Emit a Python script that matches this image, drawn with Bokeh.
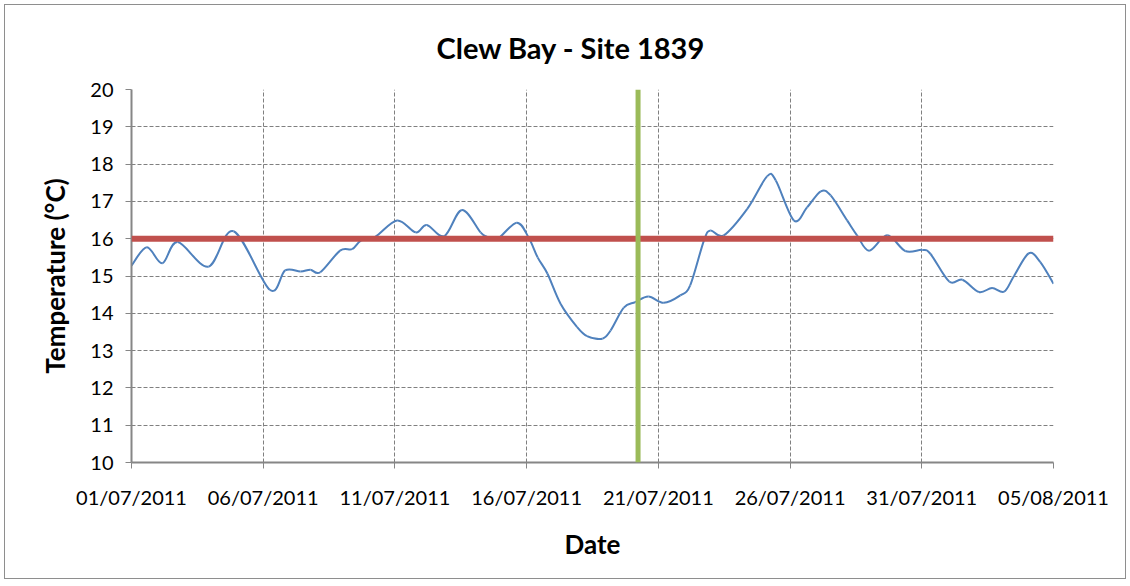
import numpy as np
import pandas as pd
from bokeh.plotting import figure
from bokeh.models import Range1d, FixedTicker, DatetimeTickFormatter, Span, ColumnDataSource
from bokeh.embed import file_html
from bokeh.resources import INLINE

# ---------------- data ----------------
times = [
    "2011-07-01 00:00", "2011-07-01 14:00", "2011-07-02 04:00", "2011-07-02 18:00",
    "2011-07-03 22:00", "2011-07-04 21:00", "2011-07-06 06:00", "2011-07-06 20:00",
    "2011-07-07 10:00", "2011-07-07 19:00", "2011-07-08 04:00", "2011-07-08 22:00",
    "2011-07-09 09:00", "2011-07-09 17:00", "2011-07-10 06:00", "2011-07-11 02:00",
    "2011-07-11 19:00", "2011-07-12 05:00", "2011-07-12 21:00", "2011-07-13 13:00",
    "2011-07-14 06:00", "2011-07-14 12:00", "2011-07-14 21:00", "2011-07-15 15:00",
    "2011-07-16 02:00", "2011-07-16 10:00", "2011-07-16 19:00", "2011-07-17 07:00",
    "2011-07-17 22:00", "2011-07-18 07:00", "2011-07-18 21:00", "2011-07-19 04:30",
    "2011-07-19 16:30", "2011-07-20 03:00", "2011-07-20 15:00", "2011-07-21 05:00",
    "2011-07-21 20:00", "2011-07-22 05:00", "2011-07-22 17:30", "2011-07-22 23:30",
    "2011-07-23 11:30", "2011-07-24 09:00", "2011-07-25 03:00", "2011-07-25 11:00",
    "2011-07-26 03:30", "2011-07-26 15:30", "2011-07-27 04:00", "2011-07-27 13:00",
    "2011-07-28 04:00", "2011-07-28 13:00", "2011-07-29 00:00", "2011-07-29 16:30",
    "2011-07-30 09:00", "2011-07-31 00:30", "2011-07-31 08:00", "2011-08-01 01:00",
    "2011-08-01 13:00", "2011-08-02 04:00", "2011-08-02 16:00", "2011-08-03 03:00",
    "2011-08-03 12:00", "2011-08-04 01:30", "2011-08-04 12:00", "2011-08-05 00:00",
]
temps = [
    15.28, 15.77, 15.34, 15.91,
    15.25, 16.20, 14.63, 15.15,
    15.12, 15.17, 15.10, 15.68,
    15.72, 15.95, 16.05, 16.49,
    16.17, 16.37, 16.07, 16.77,
    16.17, 16.05, 15.98, 16.43,
    16.02, 15.50, 15.06, 14.25,
    13.63, 13.39, 13.32, 13.54,
    14.15, 14.30, 14.45, 14.28,
    14.48, 14.75, 15.95, 16.22,
    16.09, 16.80, 17.67, 17.56,
    16.49, 16.84, 17.27, 17.16,
    16.49, 16.09, 15.68, 16.09,
    15.67, 15.70, 15.59, 14.85,
    14.90, 14.57, 14.68, 14.58,
    15.00, 15.61, 15.37, 14.79,
]
tick_dates = ["2011-07-01", "2011-07-06", "2011-07-11", "2011-07-16",
              "2011-07-21", "2011-07-26", "2011-07-31", "2011-08-05"]
y_ticks = [10, 11, 12, 13, 14, 15, 16, 17, 18, 19, 20]
threshold = 16
event_time = ["2011-07-20 05:30"]
title_text = "Clew Bay - Site 1839"
x_label = "Date"
y_label = "Temperature (°C)"


def to_ms(s):
    return pd.to_datetime(pd.Series(s)).to_numpy().astype("datetime64[ms]").astype("int64").astype(float)


x = to_ms(times)
y = np.array(temps, dtype=float)
ticks_ms = [float(v) for v in to_ms(tick_dates)]
event_ms = float(to_ms(event_time)[0])

# smooth curve (Excel-style smoothed line) as cubic Bezier segments
xp = np.concatenate([[x[0]], x, [x[-1]]])
yp = np.concatenate([[y[0]], y, [y[-1]]])
k = 1.0 / 6.0
seg = ColumnDataSource(dict(
    x0=x[:-1], y0=y[:-1], x1=x[1:], y1=y[1:],
    cx0=xp[1:-2] + (xp[2:-1] - xp[0:-3]) * k,
    cy0=yp[1:-2] + (yp[2:-1] - yp[0:-3]) * k,
    cx1=xp[2:-1] - (xp[3:] - xp[1:-2]) * k,
    cy1=yp[2:-1] - (yp[3:] - yp[1:-2]) * k,
))

FONT = "Lato"

p = figure(
    x_axis_type="datetime",
    frame_width=922, frame_height=373,
    min_border_left=126, min_border_right=72, min_border_top=84, min_border_bottom=116,
    x_range=Range1d(ticks_ms[0], ticks_ms[-1]),
    y_range=Range1d(y_ticks[0], y_ticks[-1]),
    output_backend="svg", toolbar_location=None,
    title=title_text,
)
p.styles = {"border": "1px solid #8e8e8e", "margin": "4px 0 0 4px"}

p.title.align = "left"
p.title.vertical_align = "top"
p.title.offset = 305
p.title.standoff = 46
p.title.text_font = FONT
p.title.text_font_size = "29px"
p.title.text_font_style = "bold"
p.title.text_color = "#000000"

p.outline_line_color = None
p.background_fill_color = "white"
p.border_fill_color = "white"

# grids
for g in (p.xgrid, p.ygrid):
    g.grid_line_color = "#808080"
    g.grid_line_dash = "4 2"
    g.grid_line_width = 1

# axes
p.xaxis.ticker = FixedTicker(ticks=ticks_ms)
p.xaxis.formatter = DatetimeTickFormatter(
    days="%d/%m/%Y", months="%d/%m/%Y", hours="%d/%m/%Y", years="%d/%m/%Y")
p.yaxis.ticker = FixedTicker(ticks=y_ticks)

for ax in (p.xaxis, p.yaxis):
    ax.axis_line_color = "#868686"
    ax.axis_line_width = 2
    ax.major_tick_line_color = "#868686"
    ax.major_tick_line_width = 1
    ax.major_tick_in = 0
    ax.major_tick_out = 6
    ax.minor_tick_line_color = None
    ax.major_label_text_font = FONT
    ax.major_label_text_font_size = "20px"
    ax.major_label_text_color = "#000000"
    ax.axis_label_text_font = FONT
    ax.axis_label_text_font_size = "26px"
    ax.axis_label_text_font_style = "bold"
    ax.axis_label_text_color = "#000000"

p.xaxis.axis_label = x_label
p.yaxis.axis_label = y_label
p.xaxis.major_label_standoff = 16
p.xaxis.axis_label_standoff = 16
p.yaxis.major_label_standoff = 12
p.yaxis.axis_label_standoff = 16

# temperature curve
p.bezier(x0="x0", y0="y0", x1="x1", y1="y1", cx0="cx0", cy0="cy0", cx1="cx1", cy1="cy1",
         source=seg, line_color="#4F81BD", line_width=2)

# threshold line and event marker
p.add_layout(Span(location=threshold, dimension="width", line_color="#C0504D", line_width=6))
p.add_layout(Span(location=event_ms, dimension="height", line_color="#9BBB59", line_width=5))

open("out.html", "w").write(file_html(p, INLINE))
